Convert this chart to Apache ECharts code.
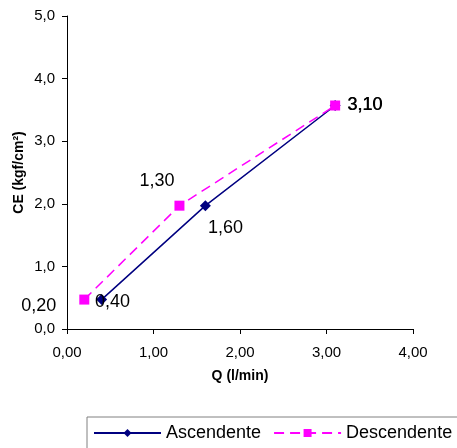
<!DOCTYPE html>
<html>
<head>
<meta charset="utf-8">
<script src="https://cdn.jsdelivr.net/npm/echarts@6/dist/echarts.min.js"></script>
<style>
html,body{margin:0;padding:0;background:#fff;}
#c{width:457px;height:448px;}
</style>
</head>
<body>
<div id="c"></div>
<script>
// Data
const ascQ = [0.40, 1.60, 3.10];
const ascCE = [0.47, 1.97, 3.57];
const descQ = [0.20, 1.30, 3.10];
const descCE = [0.47, 1.97, 3.57];
const xTicks = [0, 1, 2, 3, 4];
const yTicks = [0, 1, 2, 3, 4, 5];

const fmt2 = v => v.toFixed(2).replace('.', ',');
const fmt1 = v => v.toFixed(1).replace('.', ',');

const FONT = "'Liberation Sans', Arial, sans-serif";

// label placement (style only)
const ascLabelPos = [
  {position: 'right', offset: [-17, 2]},
  {position: 'right', offset: [-8, 22]},
  {position: 'right', offset: [2, 0]}
];
const descLabelPos = [
  {position: 'left', offset: [-18, 6]},
  {position: 'left', offset: [5, -25]},
  {position: 'right', offset: [2, 0]}
];

function build(qs, ces, pos) {
  return qs.map((q, i) => ({
    value: [q, ces[i]],
    label: Object.assign({show: true, formatter: () => fmt2(q)}, pos[i])
  }));
}

const chart = echarts.init(document.getElementById('c'), null, {renderer: 'canvas'});
chart.setOption({
  animation: false,
  textStyle: {fontFamily: FONT},
  grid: {left: 67, right: 44, top: 16, bottom: 119, containLabel: false},
  xAxis: {
    type: 'value', min: xTicks[0], max: xTicks[xTicks.length - 1], interval: 1,
    name: 'Q (l/min)', nameLocation: 'middle', nameGap: 40,
    nameTextStyle: {fontFamily: FONT, fontWeight: 'bold', fontSize: 14, color: '#000'},
    axisLine: {show: true, onZero: false, lineStyle: {color: '#000', width: 1}},
    axisTick: {show: true, length: 5, inside: false, lineStyle: {color: '#000'}},
    axisLabel: {margin: 16, fontFamily: FONT, fontSize: 15, color: '#000', formatter: fmt2},
    splitLine: {show: false}
  },
  yAxis: {
    type: 'value', min: yTicks[0], max: yTicks[yTicks.length - 1], interval: 1,
    name: 'CE (kgf/cm²)', nameLocation: 'middle', nameGap: 41, nameRotate: 90,
    nameMoveOverlap: false,
    nameTextStyle: {fontFamily: FONT, fontWeight: 'bold', fontSize: 14, color: '#000'},
    axisLine: {show: true, onZero: false, lineStyle: {color: '#000', width: 1}},
    axisTick: {show: true, length: 5, inside: false, lineStyle: {color: '#000'}},
    axisLabel: {margin: 12, fontFamily: FONT, fontSize: 15, color: '#000', formatter: fmt1},
    splitLine: {show: false}
  },
  legend: {
    left: 87, top: 417, width: 420,
    padding: [7, 30, 20, 6],
    borderColor: '#808080', borderWidth: 1,
    itemWidth: 67, itemHeight: 10, itemGap: 12,
    textStyle: {fontFamily: FONT, fontSize: 18, color: '#000'},
    data: ['Ascendente', 'Descendente']
  },
  series: [
    {
      name: 'Ascendente', type: 'line',
      data: build(ascQ, ascCE, ascLabelPos),
      symbol: 'diamond', symbolSize: 11,
      itemStyle: {color: '#000080'},
      lineStyle: {color: '#000080', width: 1.5, type: 'solid'},
      label: {fontFamily: FONT, fontSize: 18, color: '#000'},
      z: 2
    },
    {
      name: 'Descendente', type: 'line',
      data: build(descQ, descCE, descLabelPos),
      symbol: 'rect', symbolSize: 10,
      itemStyle: {color: '#FF00FF'},
      lineStyle: {color: '#FF00FF', width: 1.5, type: [10, 6]},
      label: {fontFamily: FONT, fontSize: 18, color: '#000'},
      z: 3
    }
  ]
});
</script>
</body>
</html>
